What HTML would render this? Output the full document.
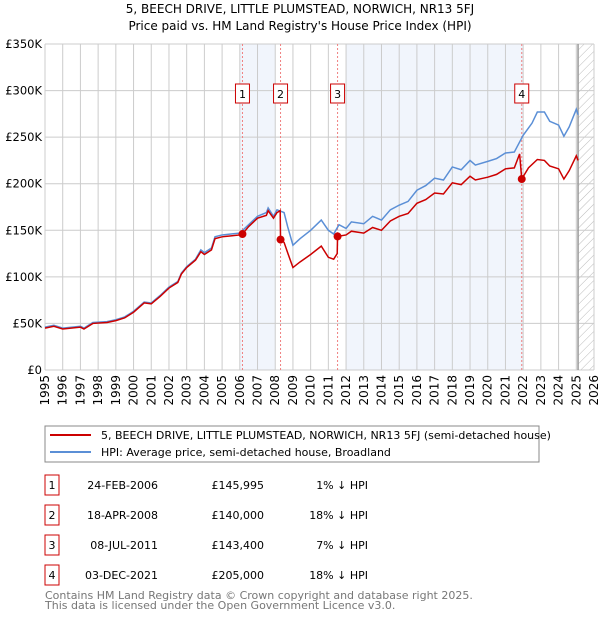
<!DOCTYPE html>
<html><head><meta charset="utf-8"><style>
body{margin:0;background:#fff;width:600px;height:620px;overflow:hidden;font-family:"DejaVu Sans","Liberation Sans",sans-serif;}
svg text{font-family:"DejaVu Sans","Liberation Sans",sans-serif;}
</style></head><body>
<svg id="chart" width="600" height="620" xmlns="http://www.w3.org/2000/svg">
<defs><pattern id="hatch" width="6" height="6" patternUnits="userSpaceOnUse" patternTransform="rotate(45)"><line x1="0" y1="0" x2="0" y2="6" stroke="#bbb" stroke-width="1"/></pattern></defs>
<text x="300" y="13" text-anchor="middle" font-size="12">5, BEECH DRIVE, LITTLE PLUMSTEAD, NORWICH, NR13 5FJ</text>
<text x="300" y="30" text-anchor="middle" font-size="12">Price paid vs. HM Land Registry's House Price Index (HPI)</text>
<g id="plot"></g>
<rect x="45" y="426" width="494" height="36" fill="#fff" stroke="#888"/>
<line x1="50" y1="435" x2="91" y2="435" stroke="#cc0000" stroke-width="2"/>
<text x="101" y="439" font-size="11">5, BEECH DRIVE, LITTLE PLUMSTEAD, NORWICH, NR13 5FJ (semi-detached house)</text>
<line x1="50" y1="452" x2="91" y2="452" stroke="#5b8fd6" stroke-width="2"/>
<text x="101" y="456" font-size="11">HPI: Average price, semi-detached house, Broadland</text>
<g id="table" font-size="11"></g>
<text x="45" y="599" font-size="11" fill="#777">Contains HM Land Registry data © Crown copyright and database right 2025.</text>
<text x="45" y="609" font-size="11" fill="#777">This data is licensed under the Open Government Licence v3.0.</text>
</svg>
<script>
const hpiYears=[1995.0,1995.5,1996.0,1997.0,1997.2,1997.7,1998.5,1999.0,1999.5,2000.0,2000.6,2001.0,2001.5,2002.0,2002.5,2002.7,2003.0,2003.5,2003.8,2004.0,2004.4,2004.6,2005.0,2005.5,2006.0,2006.5,2007.0,2007.5,2007.6,2007.9,2008.1,2008.5,2008.7,2009.0,2009.4,2010.0,2010.6,2011.0,2011.3,2011.6,2012.0,2012.3,2013.0,2013.5,2014.0,2014.5,2015.0,2015.5,2016.0,2016.5,2017.0,2017.5,2018.0,2018.5,2019.0,2019.3,2020.0,2020.5,2021.0,2021.5,2022.0,2022.5,2022.8,2023.2,2023.5,2024.0,2024.3,2024.6,2025.0,2025.1];
const hpiValues=[46,48,45,47,45,51,52,54,57,63,73,72,80,89,95,104,111,119,129,126,131,143,145,146,147,156,165,169,174,165,172,169,154,134,141,150,161,150,146,156,152,159,157,165,161,172,177,181,193,198,206,204,218,215,225,220,224,227,233,234,252,265,277,277,267,263,251,261,280,274];
const priceYears=[1995.0,1995.5,1996.0,1997.0,1997.2,1997.7,1998.5,1999.0,1999.5,2000.0,2000.6,2001.0,2001.5,2002.0,2002.5,2002.7,2003.0,2003.5,2003.8,2004.0,2004.4,2004.6,2005.0,2005.5,2006.0,2006.15,2006.5,2007.0,2007.5,2007.6,2007.9,2008.1,2008.28,2008.3,2008.5,2008.7,2009.0,2009.4,2010.0,2010.6,2011.0,2011.3,2011.5,2011.52,2012.0,2012.3,2013.0,2013.5,2014.0,2014.5,2015.0,2015.5,2016.0,2016.5,2017.0,2017.5,2018.0,2018.5,2019.0,2019.3,2020.0,2020.5,2021.0,2021.5,2021.8,2021.92,2022.3,2022.8,2023.2,2023.5,2024.0,2024.3,2024.6,2025.0,2025.1];
const priceValues=[45,47,44,46,44,50,51,53,56,62,72,71,79,88,94,103,110,118,127,124,129,141,143,144,145,146,154,163,166,171,163,169,171,140,137,126,110,116,124,133,121,119,125,143.4,145,149,147,153,150,160,165,168,179,183,190,189,201,199,208,204,207,210,216,217,232,205,217,226,225,219,216,205,214,230,225];
const saleLabels=["1","2","3","4"];
const saleYears=[2006.15,2008.3,2011.52,2021.92];
const salePrices=[145995,140000,143400,205000];
const saleDates=["24-FEB-2006","18-APR-2008","08-JUL-2011","03-DEC-2021"];
const salePriceText=["£145,995","£140,000","£143,400","£205,000"];
const saleHpiText=["1% ↓ HPI","18% ↓ HPI","7% ↓ HPI","18% ↓ HPI"];
const shadeRanges=[[2006,2008],[2012,2022]];
const yTicks=[0,50,100,150,200,250,300,350];
const yTickLabels=["£0","£50K","£100K","£150K","£200K","£250K","£300K","£350K"];
const xTicks=[1995,1996,1997,1998,1999,2000,2001,2002,2003,2004,2005,2006,2007,2008,2009,2010,2011,2012,2013,2014,2015,2016,2017,2018,2019,2020,2021,2022,2023,2024,2025,2026];

const L=45,R=594,T=44,B=370;
const xs=y=>L+(y-1995)/(2026-1995)*(R-L);
const ys=v=>B-v/350*(B-T);
const NS="http://www.w3.org/2000/svg";
function mk(tag,attrs,parent){const e=document.createElementNS(NS,tag);for(const k in attrs)e.setAttribute(k,attrs[k]);parent.appendChild(e);return e;}
const g=document.getElementById('plot');
shadeRanges.forEach((r,i)=>{const e=mk('rect',{x:xs(r[0]),y:T,width:xs(r[1])-xs(r[0]),height:B-T,fill:'#eef2fb',opacity:0.8},g);

});
const hx=xs(2025.1);
const hr=mk('rect',{x:hx,y:T,width:R-hx,height:B-T,fill:'url(#hatch)'},g);


yTicks.forEach((v,i)=>{const l=mk('line',{x1:L,x2:R,y1:ys(v),y2:ys(v),stroke:'#cccccc'},g);


const t=mk('text',{x:L-3,y:ys(v)+4,'text-anchor':'end','font-size':11.5},g);t.textContent=yTickLabels[i];

});
xTicks.forEach(yr=>{const l=mk('line',{x1:xs(yr),x2:xs(yr),y1:T,y2:B,stroke:'#cccccc'},g);


const t=mk('text',{x:0,y:0,'text-anchor':'end','font-size':12,transform:`translate(${xs(yr)+4},${B+5}) rotate(-90)`},g);t.textContent=yr;

});
const vl=mk('line',{x1:hx,x2:hx,y1:T,y2:B,stroke:'#999','stroke-width':1.5},g);


saleYears.forEach((yr,i)=>{const l=mk('line',{x1:xs(yr),x2:xs(yr),y1:T,y2:B,stroke:'#f08080','stroke-dasharray':'2,2'},g);


const b=mk('rect',{x:xs(yr)-7,y:84,width:14,height:19,fill:'#fff',stroke:'#cc0000'},g);


const t=mk('text',{x:xs(yr),y:98,'text-anchor':'middle','font-size':11},g);t.textContent=saleLabels[i];

});
const hp=mk('polyline',{points:hpiYears.map((y,i)=>xs(y)+','+ys(hpiValues[i])).join(' '),fill:'none',stroke:'#5b8fd6','stroke-width':1.5},g);


const pp=mk('polyline',{points:priceYears.map((y,i)=>xs(y)+','+ys(priceValues[i])).join(' '),fill:'none',stroke:'#cc0000','stroke-width':1.5},g);


saleYears.forEach((yr,i)=>{const c=mk('circle',{cx:xs(yr),cy:ys(salePrices[i]/1000),r:4,fill:'#cc0000'},g);

});
const tb=document.getElementById('table');
saleLabels.forEach((lab,i)=>{const cy=485+i*30;
const b=mk('rect',{x:45,y:cy-10,width:14,height:20,fill:'#fff',stroke:'#cc0000'},tb);


const t0=mk('text',{x:52,y:cy+4,'text-anchor':'middle'},tb);t0.textContent=lab;


const t1=mk('text',{x:158,y:cy+4,'text-anchor':'end'},tb);t1.textContent=saleDates[i];


const t2=mk('text',{x:264,y:cy+4,'text-anchor':'end'},tb);t2.textContent=salePriceText[i];


const t3=mk('text',{x:368,y:cy+4,'text-anchor':'end'},tb);t3.textContent=saleHpiText[i];

});
</script>
</body></html>
